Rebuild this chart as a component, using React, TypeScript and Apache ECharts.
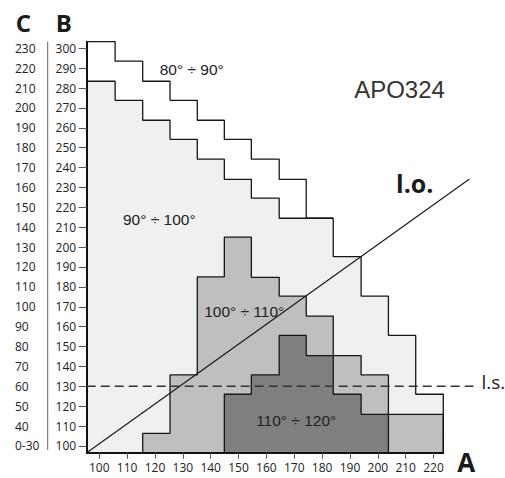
import React, { useEffect, useRef } from "react";
import * as echarts from "echarts";

// ---- data ----
const xTicks = [100, 110, 120, 130, 140, 150, 160, 170, 180, 190, 200, 210, 220];
const bTicks = [100, 110, 120, 130, 140, 150, 160, 170, 180, 190, 200, 210, 220, 230, 240, 250, 260, 270, 280, 290, 300];
const cLabels = ["0-30", "40", "50", "60", "70", "80", "90", "100", "110", "120", "130", "140", "150", "160", "170", "180", "190", "200", "210", "220", "230"];

// A-values of the step edges (13 columns)
const binEdges = [95.5, 105.7, 115.6, 125.4, 135.2, 144.9, 154.6, 164.6, 174.3, 184.0, 194.0, 203.8, 213.6, 223.5];

// upper limits (B) of each zone, per column
const zone80to90Top = [303.3, 293.5, 283.4, 273.8, 263.8, 254.2, 244.2, 234.1, 214.5]; // columns 0-8
const zone90to100Top = [283.4, 273.8, 263.8, 254.2, 244.2, 234.1, 224.6, 214.5, 214.5, 195.2, 175.3, 155.6, 126.0]; // columns 0-12
const zone100to110Top = [106.3, 135.7, 185.0, 205.0, 184.8, 175.3, 165.3, 145.4, 135.7, 115.9, 115.9]; // columns 2-12
const zone110to120Top = [126.0, 135.7, 155.6, 145.4, 126.0, 115.9]; // columns 5-10

// reference lines (A, B)
const loLine = [[95.5, 96.6], [232.9, 234.3]];
const lsLevel = 130;
const lsFromTo = [95.5, 234.3];

const X_MIN = 95.5;
const X_MAX = 223.5;
const Y_MIN = 96.6;
const Y_MAX = 303.3;

function stepData(startCol: number, tops: number[], closeLeft: boolean, closeRight: boolean) {
  const pts: number[][] = [];
  if (closeLeft) pts.push([binEdges[startCol], Y_MIN]);
  tops.forEach((t, i) => pts.push([binEdges[startCol + i], t]));
  const endEdge = binEdges[startCol + tops.length];
  pts.push([endEdge, tops[tops.length - 1]]);
  if (closeRight) pts.push([endEdge, Y_MIN]);
  return pts;
}

const OUTLINE = "#161616";

function zoneSeries(name: string, data: number[][], fill: string) {
  return {
    name,
    type: "line",
    step: "end",
    data,
    showSymbol: false,
    silent: true,
    lineStyle: { color: OUTLINE, width: 1.3 },
    areaStyle: { color: fill, opacity: 1, origin: "start" },
  };
}

const labelFont = "'Liberation Sans', Arial, sans-serif";
const tickFont = "'Open Sans', 'Noto Sans', sans-serif";

function txt(text: string, x: number, y: number, fontSize: number, opts: any = {}) {
  return {
    type: "text",
    x,
    y,
    z: 120,
    style: {
      text,
      fontSize,
      fontFamily: opts.fontFamily || labelFont,
      fontWeight: opts.fontWeight || "normal",
      fill: opts.fill || "#222",
      align: "center",
      verticalAlign: "middle",
    },
  };
}

export default function App() {
  const ref = useRef<HTMLDivElement>(null);

  useEffect(() => {
    if (!ref.current) return;
    const chart = echarts.init(ref.current, undefined, { renderer: "svg" });

    const option: any = {
      animation: false,
      backgroundColor: "#ffffff",
      grid: { left: 86.7, right: 61.7, top: 41.7, bottom: 25.3 },
      xAxis: {
        type: "value",
        min: X_MIN,
        max: X_MAX,
        z: 10,
        splitLine: { show: false },
        axisLine: { onZero: false, lineStyle: { color: "#111", width: 2 } },
        axisTick: { customValues: xTicks, length: 6, lineStyle: { color: "#555", width: 1 } },
        axisLabel: {
          customValues: xTicks,
          margin: 9,
          fontSize: 12,
          fontFamily: tickFont,
          color: "#222",
        },
      },
      yAxis: [
        {
          type: "value",
          min: Y_MIN,
          max: Y_MAX,
          z: 10,
          splitLine: { show: false },
          axisLine: { show: true, onZero: false, lineStyle: { color: "#111", width: 2 } },
          axisTick: { show: true, customValues: bTicks, length: 8, lineStyle: { color: "#555", width: 1 } },
          axisLabel: {
            customValues: bTicks,
            margin: 10.5,
            fontSize: 12,
            fontFamily: tickFont,
            color: "#222",
          },
        },
        {
          type: "value",
          position: "left",
          offset: 39,
          min: Y_MIN,
          max: Y_MAX,
          splitLine: { show: false },
          axisLine: { show: false },
          axisTick: { show: false },
          axisLabel: {
            customValues: bTicks,
            margin: 32.7,
            align: "left",
            fontSize: 12,
            fontFamily: tickFont,
            color: "#222",
            formatter: (v: number) => {
              const i = bTicks.indexOf(Math.round(v));
              return i >= 0 ? cLabels[i] : "";
            },
          },
        },
      ],
      series: [
        zoneSeries("80-90", stepData(0, zone80to90Top, false, false), "#ffffff"),
        zoneSeries("90-100", stepData(0, zone90to100Top, true, true), "#f0f0f0"),
        zoneSeries("100-110", stepData(2, zone100to110Top, true, true), "#bfbfbf"),
        zoneSeries("110-120", stepData(5, zone110to120Top, true, true), "#7f7f7f"),
      ],
    };

    chart.setOption(option);

    // reference lines extend past the plot's right edge: place them via the chart's own scales
    const toPx = (p: number[]) => chart.convertToPixel({ gridIndex: 0 }, p) as number[];
    const lo0 = toPx(loLine[0]);
    const lo1 = toPx(loLine[1]);
    const ls0 = toPx([lsFromTo[0], lsLevel]);
    const ls1 = toPx([lsFromTo[1], lsLevel]);
    const sepTop = toPx([X_MIN, Y_MAX]);
    const sepBottom = toPx([X_MIN, 98]);

    chart.setOption({
      graphic: [
        {
          type: "line",
          z: 110,
          silent: true,
          shape: { x1: 47.7, y1: sepTop[1], x2: 47.7, y2: sepBottom[1] },
          style: { stroke: "#666", lineWidth: 1 },
        },
        {
          type: "line",
          z: 110,
          silent: true,
          shape: { x1: lo0[0], y1: lo0[1], x2: lo1[0], y2: lo1[1] },
          style: { stroke: "#1a1a1a", lineWidth: 1.2 },
        },
        {
          type: "line",
          z: 110,
          silent: true,
          shape: { x1: ls0[0], y1: ls0[1], x2: ls1[0], y2: ls1[1] },
          style: { stroke: "#333", lineWidth: 1.5, lineDash: [9, 5] },
        },
        txt("C", 23.3, 22, 24, { fontWeight: "bold", fontFamily: tickFont, fill: "#1a1a1a" }),
        txt("B", 63.8, 22, 24, { fontWeight: "bold", fontFamily: tickFont, fill: "#1a1a1a" }),
        txt("A", 466.2, 461.5, 26, { fontWeight: "bold", fontFamily: tickFont, fill: "#1a1a1a" }),
        txt("80° ÷ 90°", 191.7, 69.2, 15.5),
        txt("90° ÷ 100°", 159.3, 219.5, 15.5),
        txt("100° ÷ 110°", 244.2, 311.2, 15.5),
        txt("110° ÷ 120°", 296.2, 420.8, 15.5),
        txt("APO324", 399.5, 89.7, 24, { fill: "#333" }),
        txt("l.o.", 414.7, 183, 25, { fontWeight: "bold", fontFamily: tickFont, fill: "#1a1a1a" }),
        txt("l.s.", 493.3, 381.7, 19, { fontFamily: tickFont }),
      ],
    });

    return () => chart.dispose();
  }, []);

  return (
    <div
      ref={ref}
      style={{ position: "fixed", left: 0, top: 0, width: 505, height: 478, background: "#fff" }}
    />
  );
}
